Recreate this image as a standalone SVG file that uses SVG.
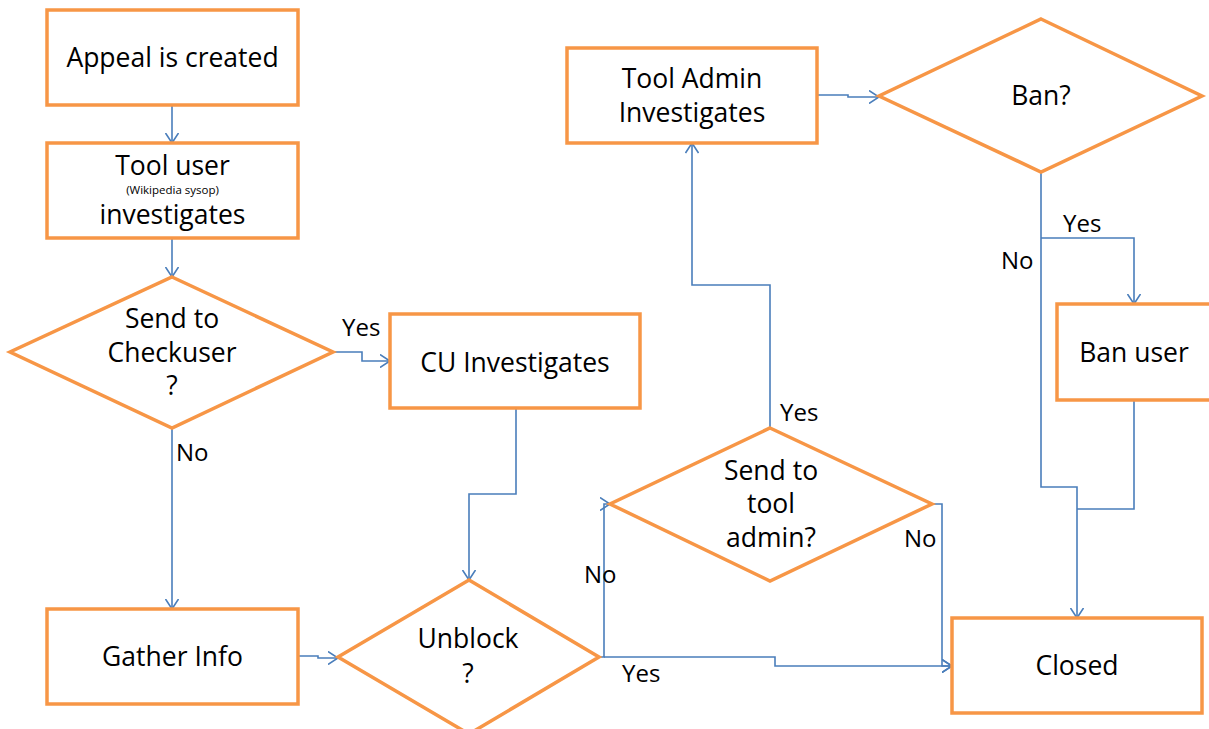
<svg xmlns="http://www.w3.org/2000/svg" width="1209" height="729" viewBox="0 0 1209 729">
<style>
.box{fill:#fff;stroke:#F79646;stroke-width:3.5}
.t{font-family:"Open Sans","Liberation Sans",sans-serif;font-size:26.5px;fill:#000;text-anchor:middle}
.s{font-family:"Open Sans","Liberation Sans",sans-serif;font-size:11.5px;fill:#000;text-anchor:middle}
.lbl{font-family:"Open Sans","Liberation Sans",sans-serif;font-size:24px;fill:#000}
.c{fill:none;stroke:#4A7EBB;stroke-width:1.6}
</style>
<defs>
<marker id="arr" markerUnits="userSpaceOnUse" viewBox="0 0 11 14" markerWidth="11" markerHeight="14" refX="10.5" refY="7" orient="auto">
<path d="M0.5,0.5 L10.5,7 L0.5,13.5" fill="none" stroke="#4A7EBB" stroke-width="1.6"/>
</marker>
</defs>
<rect width="1209" height="729" fill="#fff"/>
<g id="connectors">
<path class="c" d="M172,105 V143" marker-end="url(#arr)"/>
<path class="c" d="M172,238 V277" marker-end="url(#arr)"/>
<path class="c" d="M333,352 H362 V361 H390" marker-end="url(#arr)"/>
<path class="c" d="M516,408 V494 H469 V580" marker-end="url(#arr)"/>
<path class="c" d="M172,428 V609" marker-end="url(#arr)"/>
<path class="c" d="M298,656 H318 V658 H338" marker-end="url(#arr)"/>
<path class="c" d="M599,657 H604 V504 H610" marker-end="url(#arr)"/>
<path class="c" d="M604,657 H775 V666 H952" marker-end="url(#arr)"/>
<path class="c" d="M932,504 H942 V666 H952" marker-end="url(#arr)"/>
<path class="c" d="M770,428 V285 H692 V143" marker-end="url(#arr)"/>
<path class="c" d="M817,95 H848 V97 H879" marker-end="url(#arr)"/>
<path class="c" d="M1041,172 V487 H1077 V618" marker-end="url(#arr)"/>
<path class="c" d="M1041,238 H1134 V304" marker-end="url(#arr)"/>
<path class="c" d="M1134,400 V509 H1077"/>
<text class="lbl" x="342" y="336">Yes</text>
<text class="lbl" x="176" y="461">No</text>
<text class="lbl" x="584" y="583">No</text>
<text class="lbl" x="622" y="682">Yes</text>
<text class="lbl" x="780" y="421">Yes</text>
<text class="lbl" x="904" y="547">No</text>
<text class="lbl" x="1063" y="232">Yes</text>
<text class="lbl" x="1001" y="269">No</text>
</g>
<g id="appeal">
<rect class="box" x="47" y="10" width="251" height="95"/>
<text class="t" x="172.5" y="67">Appeal is created</text>
</g>
<g id="tooluser">
<rect class="box" x="47" y="143" width="251" height="95"/>
<text class="t" x="172.5" y="175">Tool user</text>
<text class="s" x="172.5" y="194">(Wikipedia sysop)</text>
<text class="t" x="172.5" y="224">investigates</text>
</g>
<g id="sendcu">
<polygon class="box" points="172,277 333,352 172,428 10,352"/>
<text class="t" x="172" y="328">Send to</text>
<text class="t" x="172" y="362">Checkuser</text>
<text class="t" x="172" y="395">?</text>
</g>
<g id="cuinv">
<rect class="box" x="390" y="314" width="250" height="94"/>
<text class="t" x="515" y="372">CU Investigates</text>
</g>
<g id="gather">
<rect class="box" x="47" y="609" width="251" height="95"/>
<text class="t" x="172.5" y="666">Gather Info</text>
</g>
<g id="unblock">
<polygon class="box" points="469,580 599,657 469,734 338,657"/>
<text class="t" x="468" y="648">Unblock</text>
<text class="t" x="468" y="683">?</text>
</g>
<g id="sendadmin">
<polygon class="box" points="770,428 932,504 770,581 610,504"/>
<text class="t" x="771" y="480">Send to</text>
<text class="t" x="771" y="513">tool</text>
<text class="t" x="771" y="547">admin?</text>
</g>
<g id="adminInv">
<rect class="box" x="567" y="48" width="250" height="95"/>
<text class="t" x="692" y="88">Tool Admin</text>
<text class="t" x="692" y="122">Investigates</text>
</g>
<g id="ban">
<polygon class="box" points="1041,19 1202,96 1041,172 879,96"/>
<text class="t" x="1041" y="105">Ban?</text>
</g>
<g id="banuser">
<rect class="box" x="1057" y="304" width="155" height="96"/>
<text class="t" x="1134" y="362">Ban user</text>
</g>
<g id="closed">
<rect class="box" x="952" y="618" width="250" height="95"/>
<text class="t" x="1077" y="675">Closed</text>
</g>
</svg>
